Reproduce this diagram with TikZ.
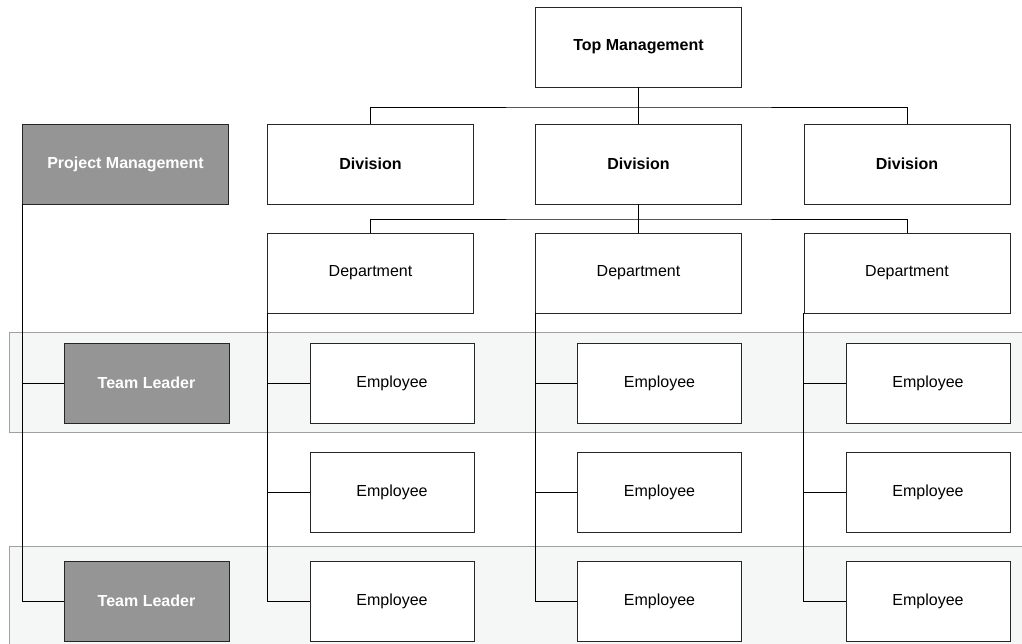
\documentclass[tikz,border=0pt]{standalone}
\usepackage{fontspec}
\setmainfont{Liberation Sans}
\usepackage{xcolor}
\usepackage{tikz}
\usetikzlibrary{positioning,calc}
\definecolor{leadgray}{HTML}{959595}
\definecolor{bandfill}{HTML}{F5F7F7}
\definecolor{bandline}{HTML}{A0A0A0}

\begin{document}
\begin{tikzpicture}[
  x=1pt, y=-1pt,
  box/.style={draw=black!85, line width=0.9pt, fill=white, minimum width=206pt,
              minimum height=80pt, inner sep=0pt, font=\fontsize{16}{18}\selectfont},
  head/.style={box, font=\fontsize{16}{18}\selectfont\bfseries},
  emp/.style={box, minimum width=164pt},
  lead/.style={head, fill=leadgray, text=white},
  band/.style={draw=bandline, line width=0.9pt, fill=bandfill},
  link/.style={line width=0.9pt, black},
]
\useasboundingbox (0,0) rectangle (1022,644);

% Team bands
\draw[band] (9,332) rectangle (1030,432);
\draw[band] (9,546) rectangle (1030,660);

% Top and divisions
\node[head] (top) at (638.5,47) {Top Management};
\node[head] (div1) at (370.5,164) {Division};
\node[head] (div2) at (638.5,164) {Division};
\node[head] (div3) at (907,164) {Division};
\coordinate (bus1) at (638.5,107);
\coordinate (bus2) at (638.5,219);

% Departments and employees
\foreach \c/\x/\ex in {1/370.5/392, 2/638.5/659.5, 3/907/928}{
  \node[box] (dep\c) at (\x,273) {Department};
  \node[emp] (emp\c1) at (\ex,383) {Employee};
  \node[emp] (emp\c2) at (\ex,492) {Employee};
  \node[emp] (emp\c3) at (\ex,601) {Employee};
  \draw[link] (dep\c.south west) |- (emp\c3.west);
  \draw[link] (dep\c.south west |- emp\c1.west) -- (emp\c1.west);
  \draw[link] (dep\c.south west |- emp\c2.west) -- (emp\c2.west);
}

% Project management side
\node[lead] (pm) at (125.5,164) {Project Management};
\node[lead, minimum width=165pt] (tl1) at (146.5,383) {Team Leader};
\node[lead, minimum width=165pt] (tl2) at (146.5,601) {Team Leader};
\draw[link] (pm.south west) |- (tl2.west);
\draw[link] (pm.south west |- tl1.west) -- (tl1.west);

% Hierarchy lines
\draw[link] (top.south) -- (div2.north);
\draw[link] (div1.north) |- (bus1) -| (div3.north);
\draw[link] (div2.south) -- (dep2.north);
\draw[link] (dep1.north) |- (bus2) -| (dep3.north);
\end{tikzpicture}
\end{document}
